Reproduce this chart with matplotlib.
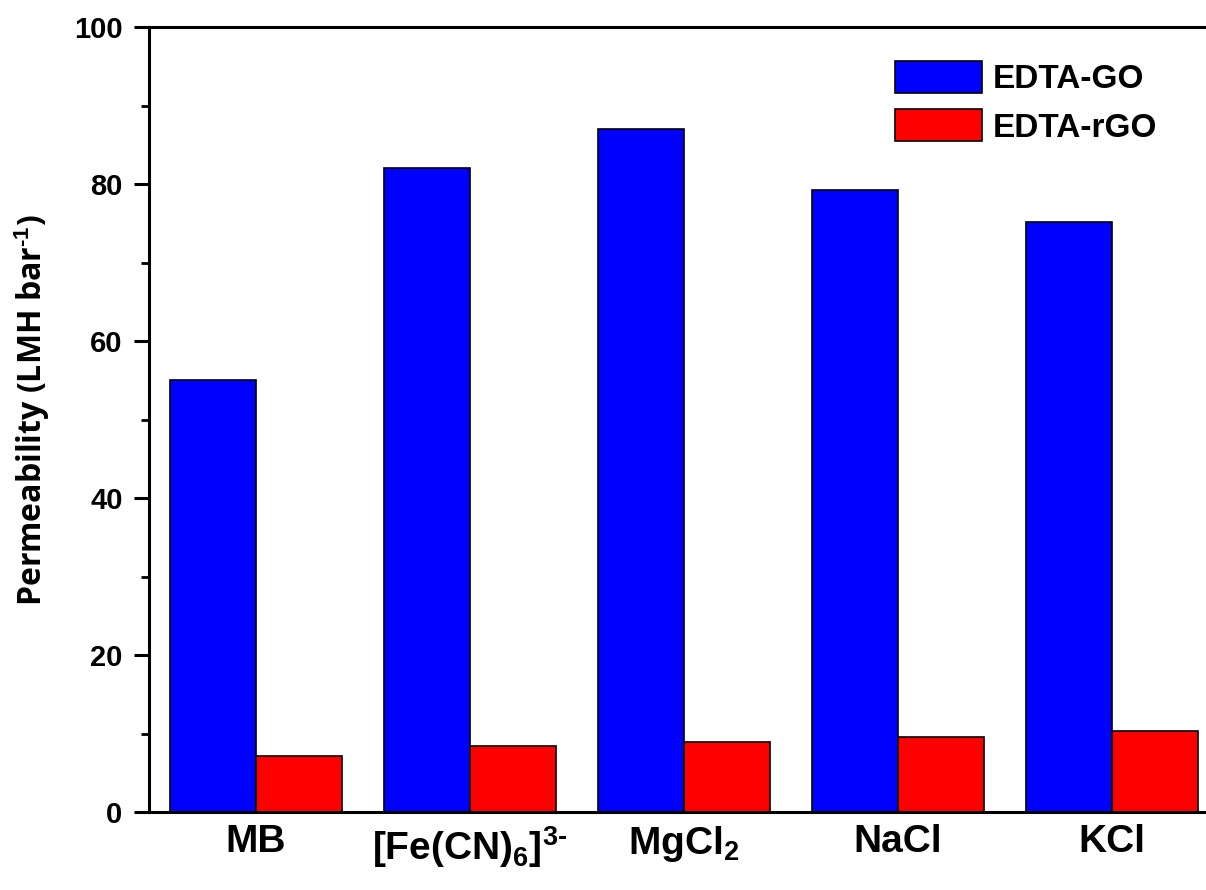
import numpy as np
import matplotlib
matplotlib.use("Agg")
import matplotlib.pyplot as plt
from matplotlib.ticker import MultipleLocator

plt.rcParams["mathtext.fontset"] = "custom"
plt.rcParams["mathtext.rm"] = "Liberation Sans:bold"
plt.rcParams["mathtext.it"] = "Liberation Sans:bold"
plt.rcParams["mathtext.bf"] = "Liberation Sans:bold"
plt.rcParams["mathtext.default"] = "rm"

# data
categories = ["MB", "[Fe(CN)$_6$]$^{\\text{3-}}$", "MgCl$_2$", "NaCl", "KCl"]
edta_go = [55.0, 82.0, 87.0, 79.2, 75.1]
edta_rgo = [7.1, 8.4, 8.9, 9.6, 10.3]
series_names = ["EDTA-GO", "EDTA-rGO"]

W, H = 1206, 890
fig = plt.figure(figsize=(W / 100, H / 100), dpi=100)
# axes runs a little past the right edge of the picture, like the original crop
ax = fig.add_axes([149 / W, 1 - 812 / H, 1070 / W, 785 / H])

x = np.arange(len(categories))
bw = 0.40
ax.bar(x - bw / 2, edta_go, width=bw, color="#0000ff", edgecolor="black",
       linewidth=1.2, label=series_names[0])
ax.bar(x + bw / 2, edta_rgo, width=bw, color="#ff0000", edgecolor="black",
       linewidth=1.2, label=series_names[1])

ax.set_xlim(-0.5, len(categories) - 0.5)
ax.set_ylim(0, 100)
ax.yaxis.set_major_locator(MultipleLocator(20))
ax.yaxis.set_minor_locator(MultipleLocator(10))

for s in ["left", "top", "bottom"]:
    ax.spines[s].set_linewidth(2.2)
ax.spines["right"].set_visible(False)

ax.tick_params(axis="y", which="major", direction="out", length=11, width=2.2, pad=8,
               labelsize=21)
ax.tick_params(axis="y", which="minor", direction="out", length=6, width=2.0)
ax.tick_params(axis="x", length=0, pad=9, labelsize=28)
for lab in ax.get_yticklabels():
    lab.set_fontfamily("Liberation Sans")
    lab.set_fontweight("bold")

ax.set_xticks(x)
ax.set_xticklabels(categories, fontfamily="Liberation Sans", fontweight="bold")

ax.set_ylabel("Permeability (LMH bar$^{\\text{-1}}$)", fontfamily="Open Sans",
              fontweight="bold", fontsize=23)
ax.yaxis.set_label_coords(-0.091, 0.512)

leg = ax.legend(loc="upper left", bbox_to_anchor=(895 / W, 1 - 61 / H),
                bbox_transform=fig.transFigure, frameon=False, borderpad=0,
                borderaxespad=0, handlelength=2.6, handleheight=1.1,
                labelspacing=0.42, handletextpad=0.33,
                prop={"family": "Liberation Sans", "weight": "bold", "size": 24})

fig.savefig("out.png", dpi=100)
